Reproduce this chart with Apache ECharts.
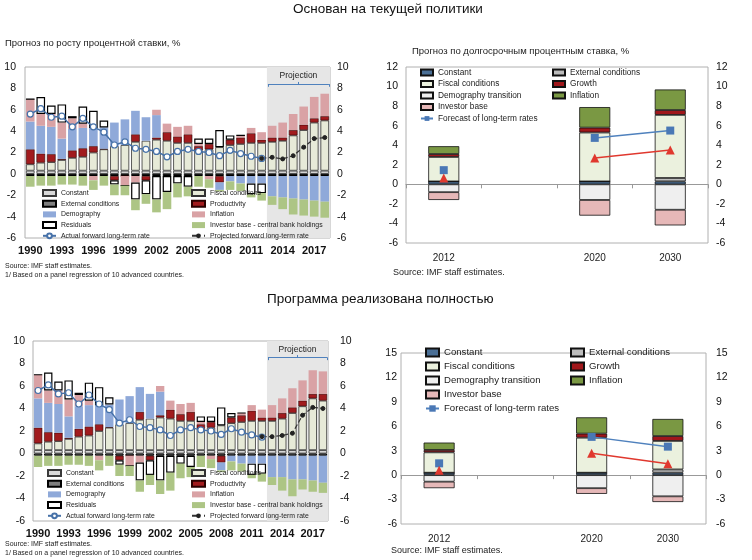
<!DOCTYPE html>
<html><head><meta charset="utf-8">
<script src="https://cdn.jsdelivr.net/npm/echarts@6/dist/echarts.min.js"></script>
<style>html,body{margin:0;padding:0;background:#fff}#c{width:752px;height:560px}</style>
</head><body><div id="c"></div>
<script>
// ---------- categories ----------
const years = ['1990','1991','1992','1993','1994','1995','1996','1997','1998','1999','2000','2001','2002','2003','2004','2005','2006','2007','2008','2009','2010','2011','2012','2013','2014','2015','2016','2017','2018'];
const rightCats = ['2012','','2020','2030'];

// ---------- left charts: historical contributions 1990-2012 ----------
const constantHist = [0.3,0.3,0.3,0.3,0.3,0.3,0.3,0.3,0.3,0.3,0.3,0.3,0.3,0.3,0.3,0.3,0.3,0.3,0.3,0.3,0.3,0.3,0.3];
const fiscalHist = [0.6,0.75,0.8,1.0,1.2,1.3,1.7,2.0,2.3,2.4,2.7,2.8,2.9,2.8,2.6,2.6,1.9,2.0,2.2,2.4,2.5,2.6,2.6];
const externalHist = [-0.2,-0.2,-0.2,-0.2,-0.2,-0.2,-0.2,-0.2,-0.2,-0.2,-0.2,-0.2,-0.2,-0.2,-0.2,-0.2,-0.2,-0.2,-0.2,-0.2,-0.2,-0.2,-0.2];
const productivityHist = [1.4,0.85,0.75,0.1,0.7,0.8,0.6,0.05,-0.4,0,0.7,-0.4,0.2,0.8,0.6,0.8,0.4,0.5,-0.6,0.5,0.6,0.9,0.3];
const demographyHist = [2.6,2.6,2.55,1.9,2.0,1.9,1.7,2.0,2.2,2.4,2.2,2.2,2.1,0,0,0,0,0,-0.7,-0.5,-0.7,-0.7,-0.7];
const inflationHist = [2.1,1.1,1.2,1.5,1.0,0.4,-0.4,0,0,-0.9,-0.6,0,0.5,0.8,0.9,0.8,0.2,-0.3,0,0,0.2,0.5,0.7];
const residualsHist = [0,1.6,0.8,1.7,0.2,1.6,1.6,0.65,-0.4,0,-1.6,-1.3,-2.2,-1.5,-0.7,-1.0,0.5,0.5,1.6,0.4,0,-1.0,-0.9];
const investorHist = [-1.0,-0.9,-0.9,-0.8,-0.8,-0.9,-0.9,-0.9,-1.0,-0.9,-1.0,-0.9,-1.2,-1.6,-1.3,-0.9,-1.0,-0.8,-0.15,-0.8,-0.7,-0.3,-0.7];
const actualRate = [5.6,6.1,5.3,5.4,4.4,5.2,4.4,3.9,2.7,3.0,2.4,2.3,2.1,1.6,2.1,2.3,2.1,2.0,1.7,2.2,1.9,1.65,1.45];

// ---------- projections 2013-2018 ----------
const constantProj = [0.3,0.3,0.3,0.3,0.3,0.3];
const externalProj = [-0.2,-0.2,-0.2,-0.2,-0.2,-0.2];
// current policy
const fiscalProjA = [2.7,2.8,3.3,3.8,4.5,4.7];
const productivityProjA = [0.4,0.3,0.5,0.5,0.4,0.4];
const demographyProjA = [-1.9,-2.0,-2.1,-2.2,-2.3,-2.4];
const inflationProjA = [1.1,1.4,1.5,1.7,2.0,2.1];
const investorProjA = [-0.8,-1.1,-1.5,-1.5,-1.5,-1.5];
const projectedRateA = [1.45,1.55,1.4,1.7,2.5,3.3,3.4]; // 2012-2018
// full programme
const fiscalProjB = [2.6,2.8,3.3,3.9,4.6,4.4];
const productivityProjB = [0.3,0.5,0.5,0.5,0.4,0.6];
const demographyProjB = [-1.9,-1.9,-2.1,-2.1,-2.2,-2.4];
const inflationProjB = [1.1,1.3,1.7,1.8,2.1,2.0];
const investorProjB = [-0.7,-1.2,-1.5,-0.9,-1.0,-0.9];
const projectedRateB = [1.5,1.5,1.6,1.8,3.4,4.1,4.0];

// ---------- right charts (2012, gap, 2020, 2030) ----------
const rConstant = [0.3,null,0.3,0.3];
const rExternalA = [0,null,0,0.35];
const rFiscalA = [2.5,null,5.0,6.45];
const rGrowthA = [0.3,null,0.5,0.5];
const rDemographyA = [-0.8,null,-1.6,-2.6];
const rInflationA = [0.8,null,2.1,2.1];
const rInvestorA = [-0.8,null,-1.6,-1.6];
const rForecastA = [1.45,null,4.75,5.5];
const rAltA = [0.65,null,2.7,3.5];

const rExternalB = [0,null,0,0.4];
const rFiscalB = [2.5,null,4.3,3.5];
const rGrowthB = [0.3,null,0.5,0.6];
const rDemographyB = [-0.8,null,-1.6,-2.6];
const rInflationB = [0.9,null,2.0,2.1];
const rInvestorB = [-0.8,null,-0.7,-0.7];
const rForecastB = [1.45,null,4.7,3.5];
const rAltB = [0.6,null,2.7,1.4];

const FONT = '"Liberation Sans", Arial, sans-serif';
const nul6 = [null,null,null,null,null,null];

function leftSeries(P, xi, yi, xv, fiscalP, prodP, demogP, inflP, invP, projLine, brY) {
  const base = {type:'bar', stack:P, xAxisIndex:xi, yAxisIndex:yi, barCategoryGap:'18%', z:2};
  const mk = (name, data, style) => Object.assign({}, base, {name:P+'|'+name, data:data, itemStyle:style});
  return [
    mk('Constant', constantHist.concat(constantProj), {color:'#D9D9D9', borderColor:'#3A3A3A', borderWidth:0.8}),
    mk('Fiscal conditions', fiscalHist.concat(fiscalP), {color:'#E7EAD8', borderColor:'#333', borderWidth:0.8}),
    mk('External conditions', externalHist.concat(externalProj), {color:'#7F7F7F', borderColor:'#000', borderWidth:1}),
    mk('Productivity', productivityHist.concat(prodP), {color:'#A11B1E', borderColor:'#2A0000', borderWidth:0.6}),
    mk('Demography', demographyHist.concat(demogP), {color:'#8FA9D9'}),
    mk('Inflation', inflationHist.concat(inflP), {color:'#D9A2A5'}),
    mk('Residuals', residualsHist.concat(nul6), {color:'#FFFFFF', borderColor:'#000', borderWidth:1.2}),
    mk('Investor base - central bank holdings', investorHist.concat(invP), {color:'#ADC585'}),
    {type:'line', name:P+'|Actual forward long-term rate', xAxisIndex:xi, yAxisIndex:yi, z:4,
     data: actualRate.concat(nul6), symbol:'circle', symbolSize:6, showSymbol:true,
     lineStyle:{color:'#4671A8', width:1.5}, itemStyle:{color:'#FFFFFF', borderColor:'#4671A8', borderWidth:1.2}},
    {type:'line', name:P+'|Projected forward long-term rate', xAxisIndex:xi, yAxisIndex:yi, z:4,
     data: Array(22).fill(null).concat(projLine), symbol:'circle', symbolSize:4, showSymbol:true,
     lineStyle:{color:'#333', width:1.2, type:'dashed'}, itemStyle:{color:'#222', borderColor:'#222'}},
    {type:'scatter', name:P+'|proj', xAxisIndex:xv, yAxisIndex:yi, data:[], z:1, silent:true,
     markArea:{silent:true, itemStyle:{color:'#E6E6E6'},
       label:{show:true, position:'insideTop', distance:4, formatter:'Projection', fontSize:8.5, color:'#222', fontFamily:FONT},
       data:[[{xAxis:22.5},{xAxis:28.5}]]},
     markLine:{silent:true, symbol:['none','none'], label:{show:false},
       lineStyle:{color:'#4F81BD', width:1, type:'solid'},
       data:[
         [{coord:[22.6,brY]},{coord:[28.4,brY]}],
         [{coord:[22.6,brY]},{coord:[22.6,brY-0.25]}],
         [{coord:[28.4,brY]},{coord:[28.4,brY-0.25]}],
         [{coord:[25.5,brY]},{coord:[25.5,brY+0.2]}]
       ]}}
  ];
}

function rightSeries(P, xi, yi, ext, fis, gro, dem, inf, inv, fc, alt) {
  const base = {type:'bar', stack:P, xAxisIndex:xi, yAxisIndex:yi, barWidth:31, z:2};
  const mk = (name, data, color) => Object.assign({}, base, {name:P+'|'+name, data:data, itemStyle:{color:color, borderColor:'#111', borderWidth:0.8}});
  return [
    mk('Constant', rConstant, '#4A6F96'),
    mk('External conditions', ext, '#BDBDBD'),
    mk('Fiscal conditions', fis, '#EBF1DE'),
    mk('Growth', gro, '#A0171B'),
    mk('Demography transition', dem, '#EFEFEF'),
    mk('Inflation', inf, '#7A9843'),
    mk('Investor base', inv, '#E6B8B8'),
    {type:'line', name:P+'|Forecast of long-term rates', xAxisIndex:xi, yAxisIndex:yi, z:4, data:fc,
     symbol:'rect', symbolSize:8, showSymbol:true, connectNulls:false,
     lineStyle:{color:'#4F81BD', width:1.5}, itemStyle:{color:'#4A78B5'}},
    {type:'line', name:P+'|alt', xAxisIndex:xi, yAxisIndex:yi, z:4, data:alt,
     symbol:'triangle', symbolSize:9, showSymbol:true, connectNulls:false,
     lineStyle:{color:'#E0382E', width:1.5}, itemStyle:{color:'#E0382E'}}
  ];
}

function leftX(grid) {
  return {type:'category', gridIndex:grid, data:years, position:'bottom',
    axisLine:{show:false, onZero:false}, axisTick:{show:false}, splitLine:{show:false},
    axisLabel:{interval:2, fontSize:11, fontWeight:'bold', color:'#111', margin:7, fontFamily:FONT}};
}
function rightX(grid) {
  return {type:'category', gridIndex:grid, data:rightCats, position:'bottom',
    axisLine:{show:false, onZero:false}, axisTick:{show:false}, splitLine:{show:false},
    axisLabel:{interval:0, fontSize:10, color:'#222', margin:10, fontFamily:FONT}};
}
function zeroX(grid) {
  return {type:'category', gridIndex:grid, data:rightCats, position:'bottom',
    axisLine:{show:true, onZero:true, lineStyle:{color:'#999', width:1}},
    axisTick:{show:true, length:4, lineStyle:{color:'#999'}}, axisLabel:{show:false}, splitLine:{show:false}};
}
function hiddenVX(grid) {
  return {type:'value', gridIndex:grid, min:-0.5, max:28.5, show:false};
}
function yAx(grid, pos, min, max, interval, margin) {
  return {type:'value', gridIndex:grid, position:pos, min:min, max:max, interval:interval,
    axisLine:{show:false}, axisTick:{show:false}, splitLine:{show:false},
    axisLabel:{fontSize:10.5, color:'#111', margin:margin, fontFamily:FONT}};
}
function legendCol(left, top, names, opts) {
  return Object.assign({orient:'vertical', left:left, top:top, padding:0, selectedMode:false,
    itemWidth:opts.iw, itemHeight:opts.ih, itemGap:opts.gap,
    formatter: n => n.split('|')[1],
    textStyle:{fontSize:opts.fs, lineHeight:opts.lh, color:'#222', fontFamily:FONT},
    data: names.map(n => (n.indexOf('rate') >= 0 ? {name:n} : {name:n, icon:'rect'}))});
}

const legL = {iw:13, ih:6, gap:0.7, fs:6.9, lh:10};
const legTR = {iw:12, ih:6, gap:0.5, fs:8.3, lh:11};
const legBR = {iw:13, ih:8, gap:1, fs:9.6, lh:13};

const option = {
  animation:false,
  backgroundColor:'#fff',
  grid:[
    {left:25, top:67, width:305, height:171, show:true, borderColor:'#B0B0B0', borderWidth:1, outerBoundsMode:'none'},
    {left:406, top:67, width:302, height:176, show:true, borderColor:'#B0B0B0', borderWidth:1, outerBoundsMode:'none'},
    {left:33, top:341, width:295, height:180, show:true, borderColor:'#B0B0B0', borderWidth:1, outerBoundsMode:'none'},
    {left:401, top:353, width:305, height:171, show:true, borderColor:'#B0B0B0', borderWidth:1, outerBoundsMode:'none'}
  ],
  xAxis:[leftX(0), rightX(1), leftX(2), rightX(3), hiddenVX(0), hiddenVX(2), zeroX(1), zeroX(3)],
  yAxis:[
    yAx(0,'left',-6,10,2,9), yAx(0,'right',-6,10,2,7),
    yAx(1,'left',-6,12,2,8), yAx(1,'right',-6,12,2,8),
    yAx(2,'left',-6,10,2,8), yAx(2,'right',-6,10,2,12),
    yAx(3,'left',-6,15,3,4), yAx(3,'right',-6,15,3,10)
  ],
  legend:[
    legendCol(42, 188, ['A|Constant','A|External conditions','A|Demography','A|Residuals','A|Actual forward long-term rate'], legL),
    legendCol(191, 188, ['A|Fiscal conditions','A|Productivity','A|Inflation','A|Investor base - central bank holdings','A|Projected forward long-term rate'], legL),
    legendCol(47, 468, ['C|Constant','C|External conditions','C|Demography','C|Residuals','C|Actual forward long-term rate'], legL),
    legendCol(191, 468, ['C|Fiscal conditions','C|Productivity','C|Inflation','C|Investor base - central bank holdings','C|Projected forward long-term rate'], legL),
    legendCol(420, 67, ['B|Constant','B|Fiscal conditions','B|Demography transition','B|Investor base','B|Forecast of long-term rates'], legTR),
    legendCol(552, 67, ['B|External conditions','B|Growth','B|Inflation'], legTR),
    legendCol(425, 346, ['D|Constant','D|Fiscal conditions','D|Demography transition','D|Investor base','D|Forecast of long-term rates'], legBR),
    legendCol(570, 346, ['D|External conditions','D|Growth','D|Inflation'], legBR)
  ],
  series:[].concat(
    leftSeries('A',0,0,4,fiscalProjA,productivityProjA,demographyProjA,inflationProjA,investorProjA,projectedRateA,8.4),
    leftSeries('C',2,4,5,fiscalProjB,productivityProjB,demographyProjB,inflationProjB,investorProjB,projectedRateB,8.55),
    rightSeries('B',1,2,rExternalA,rFiscalA,rGrowthA,rDemographyA,rInflationA,rInvestorA,rForecastA,rAltA),
    rightSeries('D',3,6,rExternalB,rFiscalB,rGrowthB,rDemographyB,rInflationB,rInvestorB,rForecastB,rAltB)
  ),
  graphic:[
    {type:'text', x:293, y:9, style:{text:'Основан на текущей политики', font:'13.5px '+FONT, fill:'#111', verticalAlign:'middle'}},
    {type:'text', x:267, y:299, style:{text:'Программа реализована полностью', font:'13.5px '+FONT, fill:'#111', verticalAlign:'middle'}},
    {type:'text', x:5, y:43, style:{text:'Прогноз по росту процентной ставки, %', font:'9.5px '+FONT, fill:'#222', verticalAlign:'middle'}},
    {type:'text', x:412, y:51, style:{text:'Прогноз по долгосрочным процентным ставка, %', font:'9.5px '+FONT, fill:'#222', verticalAlign:'middle'}},
    {type:'text', x:5, y:266, style:{text:'Source: IMF staff estimates.', font:'7px '+FONT, fill:'#222', verticalAlign:'middle'}},
    {type:'text', x:5, y:275, style:{text:'1/ Based on a panel regression of 10 advanced countries.', font:'7px '+FONT, fill:'#222', verticalAlign:'middle'}},
    {type:'text', x:393, y:273, style:{text:'Source: IMF staff estimates.', font:'9px '+FONT, fill:'#222', verticalAlign:'middle'}},
    {type:'text', x:5, y:544, style:{text:'Source: IMF staff estimates.', font:'7px '+FONT, fill:'#222', verticalAlign:'middle'}},
    {type:'text', x:5, y:553, style:{text:'1/ Based on a panel regression of 10 advanced countries.', font:'7px '+FONT, fill:'#222', verticalAlign:'middle'}},
    {type:'text', x:391, y:551, style:{text:'Source: IMF staff estimates.', font:'9px '+FONT, fill:'#222', verticalAlign:'middle'}}
  ]
};

const chart = echarts.init(document.getElementById('c'), null, {renderer:'canvas'});
chart.setOption(option);
</script>
</body></html>
